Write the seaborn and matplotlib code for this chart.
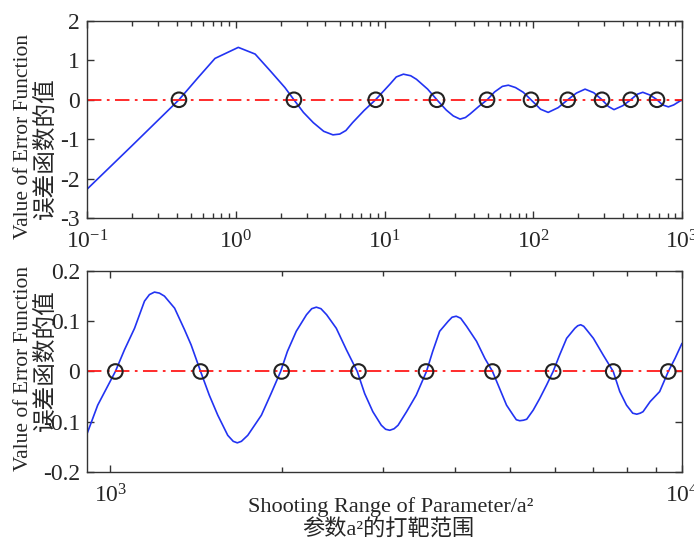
import numpy as np
import pandas as pd
import matplotlib
matplotlib.use('Agg')
import matplotlib.pyplot as plt
import seaborn as sns
from matplotlib.ticker import LogLocator, LogFormatterMathtext, NullFormatter, FixedLocator

# valores
topo_x = [0.1, 0.2, 0.3, 0.415, 0.56, 0.725, 1.04, 1.35, 1.7, 2.14, 2.46, 2.85, 3.32, 3.9, 4.5,
          5.0, 5.5, 6.1, 7.3, 8.7, 10.9, 12.0, 13.4, 15.0, 16.4, 19.5, 22.5, 26, 29, 32.2, 35, 37.6,
          43, 49, 55, 62, 68, 76, 85.7, 96.6, 112, 126, 147, 170.6, 195, 223, 255, 290, 320, 349,
          400, 452, 500, 545, 610, 680, 740, 810, 880, 1000]
topo_y = [-2.27, -1.17, -0.52, 0.0, 0.57, 1.05, 1.33, 1.16, 0.74, 0.31, 0.0, -0.32, -0.58, -0.8, -0.89,
          -0.87, -0.78, -0.58, -0.27, 0.0, 0.40, 0.58, 0.65, 0.61, 0.52, 0.27, 0.0, -0.26, -0.41, -0.49, -0.45, -0.36,
          -0.17, 0.0, 0.2, 0.34, 0.37, 0.31, 0.19, 0.0, -0.24, -0.32, -0.2, 0.0, 0.17, 0.27, 0.18, 0.0, -0.17, -0.25,
          -0.15, 0.0, 0.14, 0.19, 0.12, 0.0, -0.13, -0.18, -0.13, 0.0]
topo_zeros = [0.415, 2.46, 8.73, 22.5, 48.9, 96.6, 170.6, 290, 452, 679]

baixo_x = [910, 950, 1020, 1058, 1102, 1147, 1170, 1194, 1218, 1243, 1295, 1348, 1384, 1438, 1489, 1541,
           1604, 1640, 1667, 1695, 1739, 1837, 1910, 1985, 2040, 2114, 2203, 2250, 2292, 2335, 2389, 2484,
           2588, 2703, 2785, 2878, 2978, 3030, 3081, 3135, 3186, 3297, 3428, 3572, 3663, 3767, 3899, 3960,
           4027, 4100, 4198, 4371, 4520, 4661, 4932, 5066, 5130, 5200, 5280, 5350, 5491, 5636, 5795, 5950,
           6109, 6283, 6495, 6570, 6649, 6730, 6809, 6998, 7278, 7580, 7783, 7997, 8200, 8334, 8450, 8548,
           8795, 9140, 9463, 9723, 10000]
baixo_y = [-0.124, -0.067, 0.0, 0.043, 0.086, 0.14, 0.153, 0.158, 0.156, 0.15, 0.126, 0.083, 0.053, 0.0, -0.047, -0.087,
           -0.127, -0.139, -0.142, -0.139, -0.127, -0.087, -0.044, 0.0, 0.04, 0.08, 0.113, 0.125, 0.128, 0.125, 0.113, 0.086,
           0.043, 0.0, -0.044, -0.08, -0.107, -0.115, -0.117, -0.114, -0.107, -0.08, -0.047, 0.0, 0.04, 0.08, 0.1, 0.108,
           0.11, 0.106, 0.09, 0.06, 0.026, 0.0, -0.067, -0.087, -0.096, -0.098, -0.097, -0.095, -0.077, -0.054, -0.027, 0.0,
           0.033, 0.066, 0.086, 0.091, 0.093, 0.09, 0.083, 0.066, 0.033, 0.0, -0.04, -0.067, -0.083, -0.085, -0.083, -0.08,
           -0.06, -0.04, 0.0, 0.026, 0.056]
baixo_zeros = [1020, 1438, 1993, 2716, 3566, 4661, 5950, 7580, 9463]

sns.set_style('white')
plt.rcParams['font.family'] = ['Liberation Serif', 'Noto Sans CJK SC']
plt.rcParams['mathtext.fontset'] = 'custom'
plt.rcParams['mathtext.rm'] = 'Liberation Serif'
plt.rcParams['mathtext.it'] = 'Liberation Serif'
plt.rcParams['axes.unicode_minus'] = False

fig = plt.figure(figsize=(6.94, 5.42), dpi=100)
ax1 = fig.add_axes([0.1254, 0.5978, 0.8573, 0.3635])
ax2 = fig.add_axes([0.1254, 0.1292, 0.8573, 0.3708])


def desenhar(ax, xs, ys, zeros, xlim, ylim):
    df = pd.DataFrame({'x': xs, 'y': ys})
    sns.lineplot(data=df, x='x', y='y', ax=ax, color='#2233f2', linewidth=1.2, sort=False)
    ax.axhline(0, color='#ff1a1a', linestyle='-.', linewidth=1.3, dashes=(8, 3, 1.5, 3))
    dz = pd.DataFrame({'x': zeros, 'y': [0.0] * len(zeros)})
    sns.scatterplot(data=dz, x='x', y='y', ax=ax, s=110, facecolor='none',
                    edgecolor='#222222', linewidth=1.5, zorder=5)
    ax.set_xscale('log')
    ax.set_xlim(*xlim)
    ax.set_ylim(*ylim)
    ax.set_xlabel('')
    ax.set_ylabel('')
    ax.tick_params(which='both', direction='in', bottom=True, left=True, top=True, right=True,
                   labelsize=17, pad=5, color='#333333')
    ax.tick_params(axis='x', which='both', pad=9)
    ax.tick_params(which='major', length=5, width=1)
    ax.tick_params(which='minor', length=3.5, width=1)
    for s in ax.spines.values():
        s.set_color('#333333')
        s.set_linewidth(1.0)
        s.set_visible(True)


desenhar(ax1, topo_x, topo_y, topo_zeros, (0.1, 1000), (-3, 2))
ax1.set_yticks([-3, -2, -1, 0, 1, 2])
ax1.xaxis.set_major_locator(LogLocator(base=10, numticks=10))
ax1.xaxis.set_major_formatter(LogFormatterMathtext())
ax1.xaxis.set_minor_locator(LogLocator(base=10, subs=np.arange(2, 10), numticks=20))
ax1.xaxis.set_minor_formatter(NullFormatter())

desenhar(ax2, baixo_x, baixo_y, baixo_zeros, (910, 10000), (-0.2, 0.2))
ax2.set_yticks([-0.2, -0.1, 0, 0.1, 0.2])
ax2.set_yticklabels(['-0.2', '-0.1', '0', '0.1', '0.2'])
ax2.xaxis.set_major_locator(FixedLocator([1000, 10000]))
ax2.xaxis.set_major_formatter(LogFormatterMathtext())
ax2.xaxis.set_minor_locator(FixedLocator([2000, 3000, 4000, 5000, 6000, 7000, 8000, 9000]))
ax2.xaxis.set_minor_formatter(NullFormatter())

# rotulos do eixo y (duas linhas, idiomas diferentes)
fig.text(0.034, 0.749, 'Value of Error Function', rotation=90, ha='center', va='center', fontsize=15.5)
fig.text(0.066, 0.727, '误差函数的值', rotation=90, ha='center', va='center', fontsize=17)
fig.text(0.034, 0.321, 'Value of Error Function', rotation=90, ha='center', va='center', fontsize=15.5)
fig.text(0.066, 0.336, '误差函数的值', rotation=90, ha='center', va='center', fontsize=17)

fig.text(0.563, 0.064, 'Shooting Range of Parameter/a²', ha='center', va='center', fontsize=16)
fig.text(0.559, 0.022, '参数a²的打靶范围', ha='center', va='center', fontsize=16)

plt.savefig('out.png', dpi=100)
